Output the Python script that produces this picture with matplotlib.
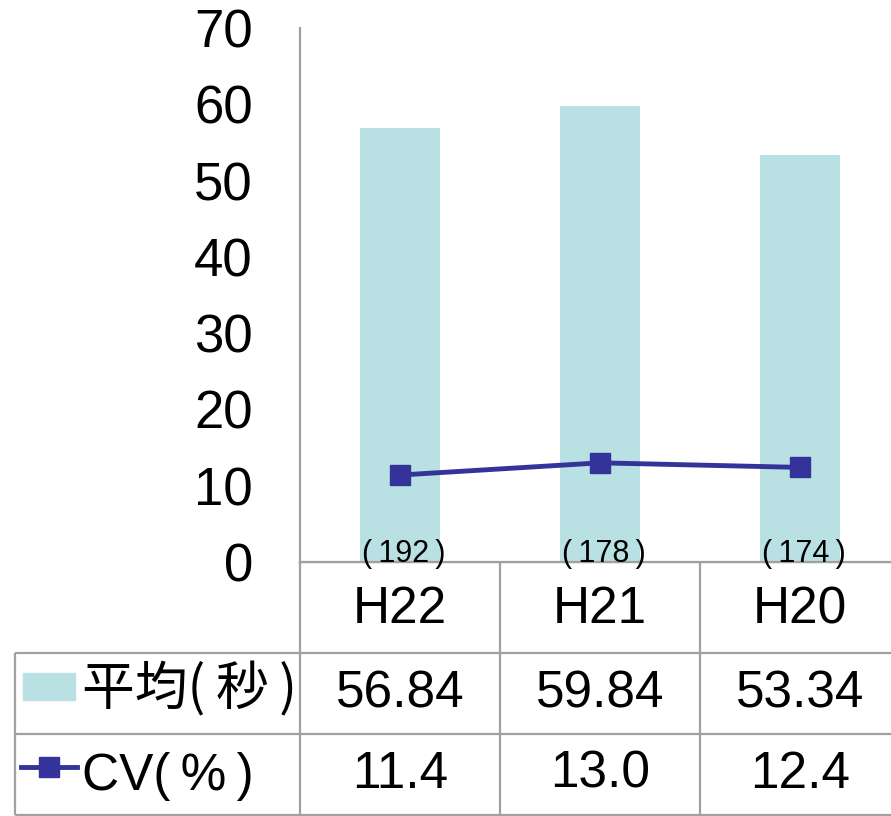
import matplotlib

matplotlib.use("Agg")

import matplotlib.pyplot as plt  # noqa: E402
from matplotlib.lines import Line2D  # noqa: E402
from matplotlib.patches import Rectangle  # noqa: E402

plt.rcParams["font.family"] = ["Liberation Sans", "Noto Sans CJK JP", "DejaVu Sans"]

categories = ["H22", "H21", "H20"]
mean_sec = [56.84, 59.84, 53.34]
cv_pct = [11.4, 13.0, 12.4]
counts = ["(192)", "(178)", "(174)"]
mean_labels = ["56.84", "59.84", "53.34"]
cv_labels = ["11.4", "13.0", "12.4"]
row_names = ["平均(秒)", "CV(%)"]

BAR_COLOR = "#b9e0e3"
LINE_COLOR = "#333399"
GRID_COLOR = "#a0a0a0"
TS = "\u2009"  # thin space, opens up the parentheses a little


def spaced(s):
    return s.replace("(", "(" + TS).replace(")", TS + ")")


W, H = 891, 816
fig = plt.figure(figsize=(W / 100, H / 100), dpi=100)

# chart area in pixels
x0, y_top, y_bot = 300, 28, 562
col_w = 200
ax = fig.add_axes([x0 / W, 1 - y_bot / H, (W - x0) / W, (y_bot - y_top) / H])
xs = list(range(len(categories)))
ax.bar(xs, mean_sec, width=0.4, color=BAR_COLOR, zorder=1)
ax.plot(xs, cv_pct, color=LINE_COLOR, lw=3.5, marker="s", ms=15, zorder=3)
for x, c in zip(xs, counts):
    ax.text(x + 0.02, 0, spaced(c), ha="center", va="baseline", fontsize=22, zorder=4)

ax.set_xlim(-0.5, -0.5 + (W - x0) / col_w)
ax.set_ylim(0, 70)
ax.set_yticks(range(0, 71, 10))
ax.tick_params(axis="y", length=0, pad=34, labelsize=38)
ax.set_xticks([])
for s in ["top", "right"]:
    ax.spines[s].set_visible(False)
for s in ["left", "bottom"]:
    ax.spines[s].set_color(GRID_COLOR)
    ax.spines[s].set_linewidth(1.6)

# data table underneath, drawn in pixel coordinates
tab = fig.add_axes([0, 0, 1, 1], zorder=-1)
tab.set_xlim(0, W)
tab.set_ylim(H, 0)
tab.axis("off")

row_edges = [562, 653, 734, 815]
left_edge = 15
col_edges = [x0 + col_w * i for i in range(len(categories) + 1)]
lk = dict(color=GRID_COLOR, lw=1.6, solid_capstyle="butt")
tab.plot([x0, W], [row_edges[0]] * 2, **lk)
for y in row_edges[1:]:
    tab.plot([left_edge, W], [y, y], **lk)
tab.plot([left_edge, left_edge], [row_edges[1], row_edges[-1]], **lk)
for x in col_edges[:-1]:
    tab.plot([x, x], [row_edges[0], row_edges[-1]], **lk)

centers = [x0 + col_w * (i + 0.5) for i in xs]
row_mid = [(row_edges[i] + row_edges[i + 1]) / 2 for i in range(3)]
for cx, cat, m, cv in zip(centers, categories, mean_labels, cv_labels):
    tab.text(cx, row_mid[0] + 2, cat, ha="center", va="center", fontsize=37)
    tab.text(cx, row_mid[1], m, ha="center", va="center", fontsize=37)
    tab.text(cx, row_mid[2], cv, ha="center", va="center", fontsize=37)

# legend keys in the row labels
tab.add_patch(Rectangle((23, 673), 52, 27, color=BAR_COLOR))
tab.add_line(Line2D([21, 77], [767, 767], color=LINE_COLOR, lw=3.5))
tab.add_line(Line2D([49], [767], color=LINE_COLOR, marker="s", ms=15))
tab.text(82, row_mid[1] - 4, spaced(row_names[0]), ha="left", va="center",
         fontsize=38, family=["Noto Sans CJK JP", "DejaVu Sans"])
tab.text(82, row_mid[2] + 2, spaced(row_names[1]), ha="left", va="center",
         fontsize=37)

fig.savefig("out.png", dpi=100)
plt.close(fig)
